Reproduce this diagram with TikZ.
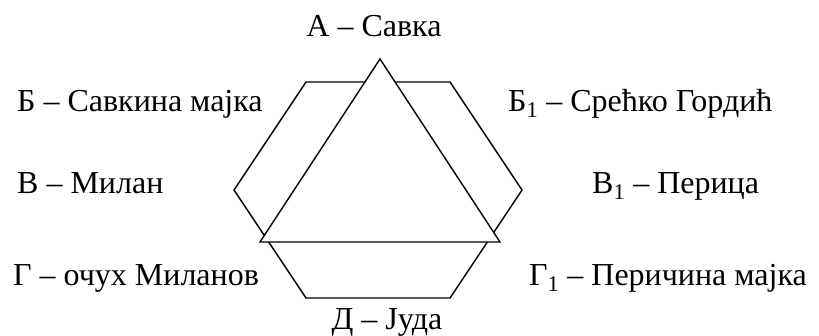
\documentclass[tikz,border=0pt]{standalone}
\usepackage{fontspec}
\setmainfont{Liberation Serif}
\begin{document}
\begin{tikzpicture}[x=1pt,y=-1pt,
  lbl/.style={inner sep=0pt,font=\fontsize{32}{36}\selectfont},
  edge/.style={line width=1.4pt,line join=miter}]
\useasboundingbox (0,0) rectangle (819,335);
% hexagon
\coordinate (h1) at (306,82);
\coordinate (h2) at (450,82);
\coordinate (h3) at (522,190);
\coordinate (h4) at (450,298);
\coordinate (h5) at (306,298);
\coordinate (h6) at (234,190);
\draw[edge] (h1) -- (h2) -- (h3) -- (h4) -- (h5) -- (h6) -- cycle;
% triangle over it
\coordinate (t1) at (380,59);
\coordinate (t2) at (260,242);
\coordinate (t3) at (500,242);
\draw[edge,fill=white] (t1) -- (t2) -- (t3) -- cycle;
% labels
\node[lbl,anchor=base] (A) at (374,36) {А – Савка};
\node[lbl,anchor=base west] (B) at (17,111) {Б – Савкина мајка};
\node[lbl,anchor=base west] (B1) at (508,111) {Б\textsubscript{1} – Срећко Гордић};
\node[lbl,anchor=base west] (V) at (17,193) {В – Милан};
\node[lbl,anchor=base west] (V1) at (592,193) {В\textsubscript{1} – Перица};
\node[lbl,anchor=base west] (G) at (13,285) {Г – очух Миланов};
\node[lbl,anchor=base west] (G1) at (529,285) {Г\textsubscript{1} – Перичина мајка};
\node[lbl,anchor=base] (D) at (387,329) {Д – Јуда};
\end{tikzpicture}
\end{document}
